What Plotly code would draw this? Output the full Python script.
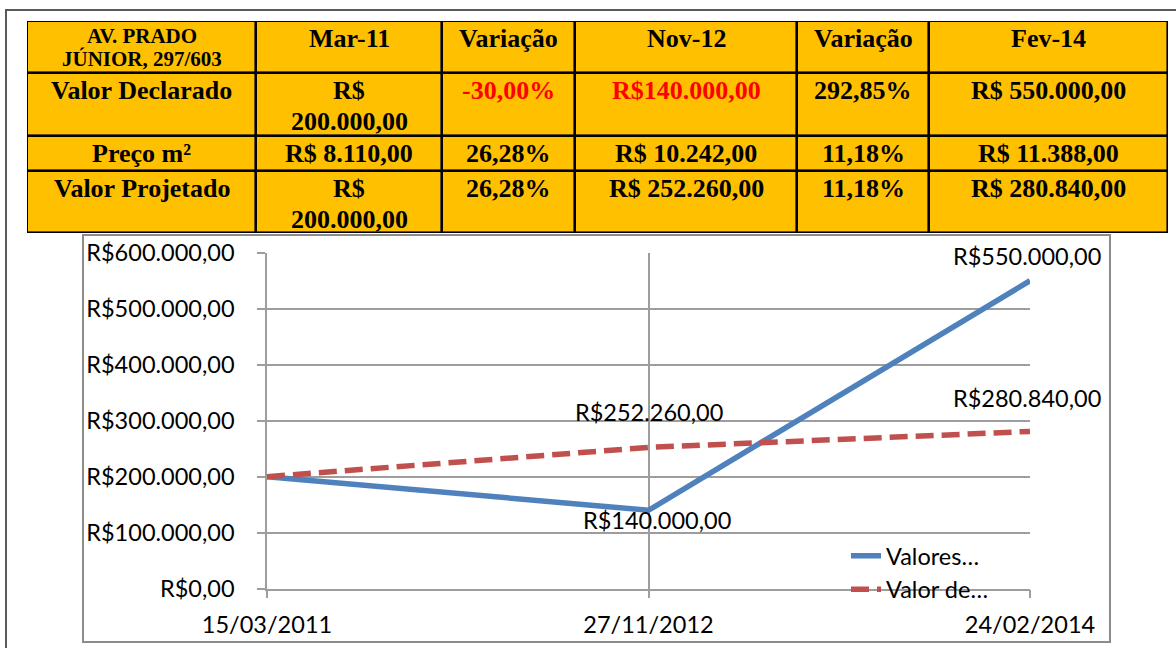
import plotly.graph_objects as go

# ---------------- table data ----------------
table_header = ["AV. PRADO<br>JÚNIOR, 297/603", "Mar-11", "Variação", "Nov-12", "Variação", "Fev-14"]
row_valor_declarado = ["Valor Declarado", "R$<br>200.000,00", "-30,00%", "R$140.000,00", "292,85%", "R$ 550.000,00"]
row_preco_m2 = ["Preço m²", "R$ 8.110,00", "26,28%", "R$ 10.242,00", "11,18%", "R$ 11.388,00"]
row_valor_projetado = ["Valor Projetado", "R$<br>200.000,00", "26,28%", "R$ 252.260,00", "11,18%", "R$ 280.840,00"]
red_cells = [(1, 2), (1, 3)]  # (row, column) written in red

# ---------------- chart data ----------------
dates = ["15/03/2011", "27/11/2012", "24/02/2014"]
valores_declarados = [200000, 140000, 550000]
valor_projetado = [200000, 252260, 280840]
series_names = ["Valores…", "Valor de…"]
labelled_points = [1, 2]  # point indices that carry a data label

# ---------------- style ----------------
W, H = 1176, 648
col_widths = [229, 186, 133, 222, 132, 239]
row_heights = [52, 63, 35, 62]
table_left, table_top = 27, 21
table_fill = "#FFC000"
serif = "Liberation Serif"
sans = "Lato"
chart_font = 23.5
grid_col = "#9D9D9D"
blue = "#4F81BD"
red = "#C0504D"
# label shifts (px) per series, per labelled point
label_shifts = {0: [(8, -10), (-3, 25)], 1: [(0, 35), (-3, 33)]}

rows = [table_header, row_valor_declarado, row_preco_m2, row_valor_projetado]

x_edges = [0]
for w in col_widths:
    x_edges.append(x_edges[-1] + w)
y_edges = [0]
for h in row_heights:
    y_edges.append(y_edges[-1] + h)
tw, th = x_edges[-1], y_edges[-1]


def brl(v):
    s = f"{v:,.2f}".replace(",", "X").replace(".", ",").replace("X", ".")
    return "R$" + s


fig = go.Figure()

# table as a grid of cells
fig.add_trace(go.Heatmap(
    x=x_edges, y=y_edges, z=[[1] * len(col_widths) for _ in row_heights],
    zmin=0, zmax=1, colorscale=[[0, table_fill], [1, table_fill]],
    xgap=2.6, ygap=2.6, showscale=False, hoverinfo="skip",
    xaxis="x2", yaxis="y2"))

# chart lines
fig.add_trace(go.Scatter(x=dates, y=valores_declarados, name=series_names[0], mode="lines",
                         line=dict(color=blue, width=5.5), hoverinfo="skip"))
fig.add_trace(go.Scatter(x=dates, y=valor_projetado, name=series_names[1], mode="lines",
                         line=dict(color=red, width=5.5, dash="18px,8px"), hoverinfo="skip"))

annotations = []
# table text
for r, row in enumerate(rows):
    for c, txt in enumerate(row):
        size = 21 if (r == 0 and c == 0) else 26
        lh = 23 if size == 21 else 31
        color = "#FF0000" if (r, c) in red_cells else "black"
        for i, line in enumerate(txt.split("<br>")):
            annotations.append(dict(
                x=(x_edges[c] + x_edges[c + 1]) / 2, y=y_edges[r], xref="x2", yref="y2",
                text=f"<b>{line}</b>", showarrow=False, xanchor="center", yanchor="top",
                yshift=-(1 + i * lh), font=dict(family=serif, size=size, color=color)))

# data labels
for s, series in enumerate([valores_declarados, valor_projetado]):
    for k, j in enumerate(labelled_points):
        dx, dy = label_shifts[s][k]
        annotations.append(dict(
            x=dates[j], y=series[j], xref="x", yref="y", text=brl(series[j]),
            showarrow=False, xanchor="center", yanchor="middle", xshift=dx, yshift=dy,
            font=dict(family=sans, size=chart_font, color="black")))

shapes = [
    # outer page frame
    dict(type="rect", xref="paper", yref="paper", x0=6 / W, x1=1.05, y0=-0.05, y1=1 - 10 / H,
         line=dict(color="#5A5A5A", width=2), layer="below"),
    # table border / background for the cell gaps
    dict(type="rect", xref="x2", yref="y2", x0=0, x1=tw, y0=0, y1=th,
         fillcolor="black", line=dict(color="black", width=2.6), layer="below"),
    # chart frame
    dict(type="rect", xref="paper", yref="paper", x0=83 / W, x1=1110 / W,
         y0=1 - 642 / H, y1=1 - 235 / H, line=dict(color="#8C8C8C", width=2), layer="below"),
]

fig.update_layout(
    width=W, height=H, autosize=False,
    margin=dict(l=0, r=0, t=0, b=0, pad=0, autoexpand=False),
    paper_bgcolor="white", plot_bgcolor="white",
    separators=",.",
    showlegend=True,
    legend=dict(x=846 / W, xanchor="left", y=1 - 534 / H, yanchor="top",
                bgcolor="rgba(0,0,0,0)", font=dict(family=sans, size=chart_font, color="black"),
                tracegroupgap=0),
    annotations=annotations,
    shapes=shapes,
    xaxis=dict(domain=[267 / W, 1030 / W], type="category", range=[0, 2], automargin=False,
               showgrid=True, gridcolor=grid_col, gridwidth=1.5,
               showline=True, linecolor=grid_col, linewidth=1.5, zeroline=False,
               ticks="outside", ticklen=8, tickwidth=1.5, tickcolor=grid_col,
               ticklabelstandoff=6,
               tickfont=dict(family=sans, size=chart_font, color="black"), fixedrange=True),
    yaxis=dict(domain=[1 - 588.7 / H, 1 - 252.7 / H], range=[0, 600000], dtick=100000,
               tickprefix="R$", tickformat=",.2f", automargin=False,
               showgrid=True, gridcolor=grid_col, gridwidth=1.5,
               showline=True, linecolor=grid_col, linewidth=1.5, zeroline=False,
               ticks="outside", ticklen=8, tickwidth=1.5, tickcolor=grid_col,
               ticklabelstandoff=18,
               tickfont=dict(family=sans, size=chart_font, color="black"), fixedrange=True),
    xaxis2=dict(domain=[table_left / W, (table_left + tw) / W], range=[0, tw],
                anchor="y2", visible=False, fixedrange=True, automargin=False),
    yaxis2=dict(domain=[1 - (table_top + th) / H, 1 - table_top / H], range=[th, 0],
                anchor="x2", visible=False, fixedrange=True, automargin=False),
)

fig.write_html("out.html", config={"displayModeBar": False},
               post_script="document.body.style.margin='0';document.body.style.overflow='hidden';")
